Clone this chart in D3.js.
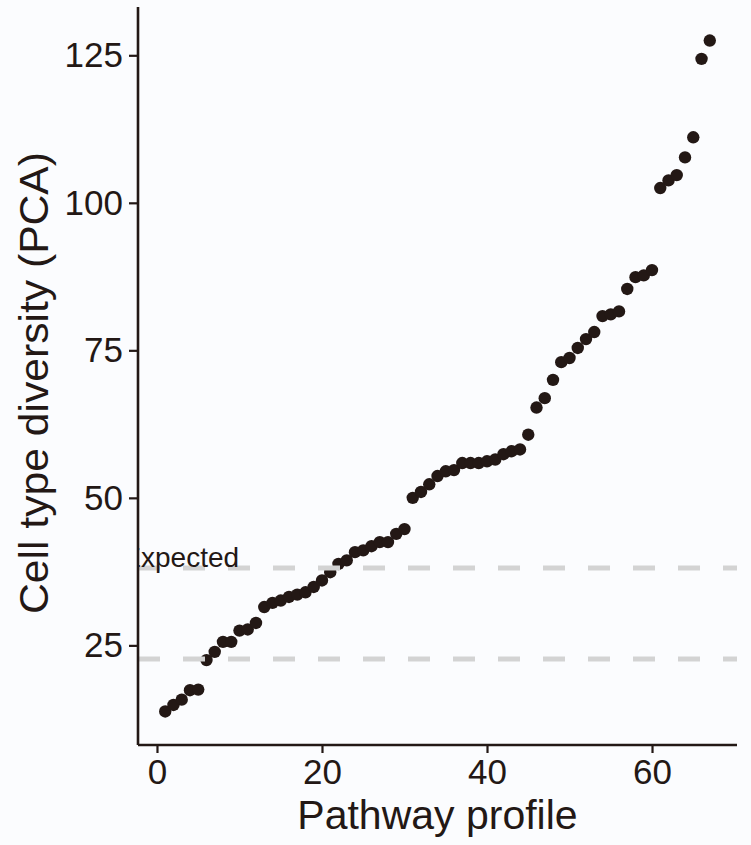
<!DOCTYPE html>
<html>
<head>
<meta charset="utf-8">
<script src="https://cdn.jsdelivr.net/npm/d3@7"></script>
<style>
  body { margin: 0; background: #fbfcfe; }
  svg { display: block; }
</style>
</head>
<body>
<div id="chart"></div>
<script>
// cell type diversity per pathway profile, sorted ascending (profile = rank)
var diversity = [
    13.8, 14.9, 15.8, 17.4, 17.5, 22.5, 23.9, 25.6, 25.6, 27.5,
    27.7, 28.8, 31.5, 32.2, 32.6, 33.2, 33.6, 34.0, 34.9, 36.0,
    37.4, 38.8, 39.4, 40.8, 41.1, 41.8, 42.5, 42.5, 43.9, 44.7,
    50.0, 51.0, 52.3, 53.7, 54.5, 54.7, 55.9, 55.9, 55.9, 56.2,
    56.5, 57.4, 57.9, 58.2, 60.7, 65.3, 66.9, 70.0, 73.0, 73.7,
    75.4, 76.9, 78.1, 80.8, 81.1, 81.6, 85.4, 87.4, 87.7, 88.6,
    102.5, 103.8, 104.7, 107.7, 111.1, 124.4, 127.5
];
var refLines = [38.1, 22.7];
var refLabel = "Expected";
var xTicks = [0, 20, 40, 60];
var yTicks = [25, 50, 75, 100, 125];

var width = 751, height = 845;
var ink = "#231815";
var font = "'Liberation Sans', Arial, Helvetica, sans-serif";

// turn the values into points
var data = diversity.map(function (d, i) {
    return { profile: i + 1, value: d };
});

function expand(ext) {
    var pad = (ext[1] - ext[0]) * 0.05;
    return [ext[0] - pad, ext[1] + pad];
}

var x = d3.scaleLinear()
    .domain(expand(d3.extent(data, function (d) { return d.profile; })))
    .range([138, 737]);
var y = d3.scaleLinear()
    .domain(expand(d3.extent(data, function (d) { return d.value; })))
    .range([745, 7]);

var svg = d3.select('#chart')
    .append('svg')
    .attr("width", width)
    .attr("height", height);

svg.append('rect')
    .attr("width", width)
    .attr("height", height)
    .attr("fill", "#fbfcfe");

svg.append('clipPath')
    .attr("id", "panel")
    .append('rect')
    .attr("x", 138)
    .attr("y", 7)
    .attr("width", 737 - 138)
    .attr("height", 745 - 7);

var panel = svg.append('g').attr("clip-path", "url(#panel)");

// points
panel.selectAll('circle')
    .data(data)
    .enter()
    .append('circle')
        .attr("cx", function (d) { return x(d.profile); })
        .attr("cy", function (d) { return y(d.value); })
        .attr("r", 6.2)
        .attr("fill", ink);

// dashed reference lines
panel.selectAll('line.ref')
    .data(refLines)
    .enter()
    .append('line')
        .attr("class", "ref")
        .attr("x1", 138)
        .attr("x2", 737)
        .attr("y1", function (d) { return y(d); })
        .attr("y2", function (d) { return y(d); })
        .attr("stroke", "#d3d3d3")
        .attr("stroke-width", 5)
        .attr("stroke-dasharray", "22,23");

// label sits half outside the panel, so it gets clipped
panel.append('text')
    .attr("x", x(-4.2))
    .attr("y", y(refLines[0]) - 1.5)
    .attr("font-family", font)
    .attr("font-size", 28)
    .attr("fill", ink)
    .text(refLabel);

// axes
var xAxis = svg.append('g')
    .attr("transform", "translate(0,745)")
    .call(d3.axisBottom(x).tickValues(xTicks).tickSize(8).tickPadding(6));
var yAxis = svg.append('g')
    .attr("transform", "translate(138,0)")
    .call(d3.axisLeft(y).tickValues(yTicks).tickSize(9).tickPadding(6));

[xAxis, yAxis].forEach(function (ax) {
    ax.select('.domain').attr("stroke", ink).attr("stroke-width", 2.6);
    ax.selectAll('.tick line').attr("stroke", ink).attr("stroke-width", 2.2);
    ax.selectAll('.tick text')
        .attr("fill", ink)
        .attr("font-family", font)
        .attr("font-size", 35);
});
xAxis.select('.domain').attr("d", "M138,0H737");
yAxis.select('.domain').attr("d", "M0,745V7");

// axis titles
svg.append('text')
    .attr("x", (138 + 737) / 2)
    .attr("y", 829)
    .attr("text-anchor", "middle")
    .attr("font-family", font)
    .attr("font-size", 41)
    .attr("fill", ink)
    .text("Pathway profile");

svg.append('text')
    .attr("transform", "translate(48,383) rotate(-90)")
    .attr("text-anchor", "middle")
    .attr("font-family", font)
    .attr("font-size", 41)
    .attr("textLength", 462)
    .attr("lengthAdjust", "spacingAndGlyphs")
    .attr("fill", ink)
    .text("Cell type diversity (PCA)");
</script>
</body>
</html>
